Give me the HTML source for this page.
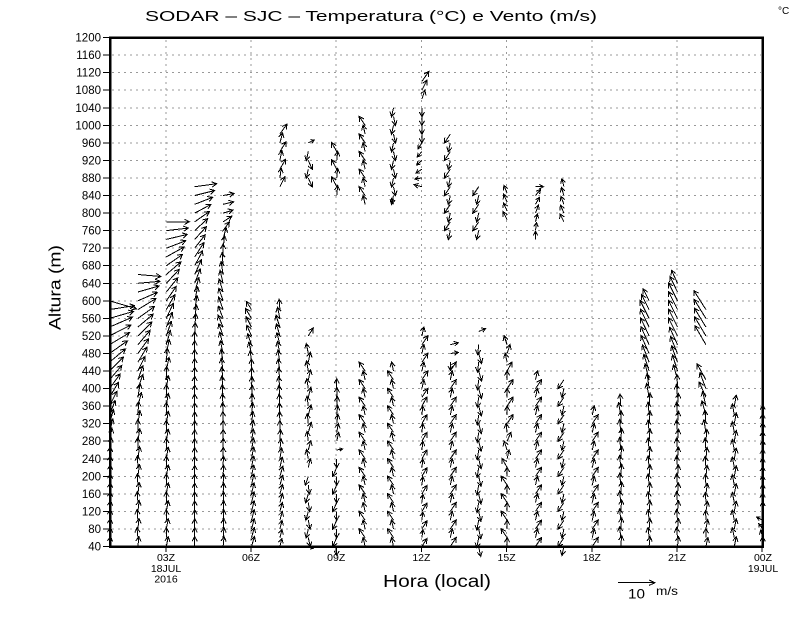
<!DOCTYPE html>
<html>
<head>
<meta charset="utf-8">
<style>
html,body{margin:0;padding:0;background:#fff;}
svg{display:block;font-family:"Liberation Sans",sans-serif;}
</style>
</head>
<body>
<svg id="s" width="800" height="618" viewBox="0 0 800 618" xmlns="http://www.w3.org/2000/svg">
<rect width="800" height="618" fill="#fff"/>
<g stroke="#999" stroke-width="1" stroke-dasharray="2 4" shape-rendering="crispEdges" fill="none">
<path d="M112 528.95H761M112 511.4H761M112 493.85H761M112 476.3H761M112 458.75H761M112 441.2H761M112 423.65H761M112 406.1H761M112 388.55H761M112 371H761M112 353.45H761M112 335.9H761M112 318.35H761M112 300.8H761M112 283.25H761M112 265.7H761M112 248.15H761M112 230.6H761M112 213.05H761M112 195.5H761M112 177.95H761M112 160.4H761M112 142.85H761M112 125.3H761M112 107.75H761M112 90.2H761M112 72.65H761M112 55.1H761"/>
<path d="M165.8 40V545M251 40V545M336.2 40V545M421.4 40V545M506.6 40V545M591.8 40V545M677 40V545"/>
</g>
<path id="arr" d="" stroke="#000" stroke-width="1" fill="none" shape-rendering="crispEdges"/>
<rect x="110" y="37.7" width="652.5" height="509" fill="none" stroke="#000" stroke-width="2.5" shape-rendering="crispEdges"/>
<g stroke="#000" stroke-width="1" shape-rendering="crispEdges">
<path d="M103 546.5H109M103 528.95H109M103 511.4H109M103 493.85H109M103 476.3H109M103 458.75H109M103 441.2H109M103 423.65H109M103 406.1H109M103 388.55H109M103 371H109M103 353.45H109M103 335.9H109M103 318.35H109M103 300.8H109M103 283.25H109M103 265.7H109M103 248.15H109M103 230.6H109M103 213.05H109M103 195.5H109M103 177.95H109M103 160.4H109M103 142.85H109M103 125.3H109M103 107.75H109M103 90.2H109M103 72.65H109M103 55.1H109M103 37.55H109"/>
<path d="M165.8 547V552M251 547V552M336.2 547V552M421.4 547V552M506.6 547V552M591.8 547V552M677 547V552M762.2 547V552"/>
</g>
<g font-size="11.5" text-anchor="end" fill="#000">
<text x="101" y="550.5">40</text>
<text x="101" y="533">80</text>
<text x="101" y="515.4">120</text>
<text x="101" y="497.9">160</text>
<text x="101" y="480.3">200</text>
<text x="101" y="462.8">240</text>
<text x="101" y="445.2">280</text>
<text x="101" y="427.7">320</text>
<text x="101" y="410.1">360</text>
<text x="101" y="392.6">400</text>
<text x="101" y="375">440</text>
<text x="101" y="357.5">480</text>
<text x="101" y="339.9">520</text>
<text x="101" y="322.4">560</text>
<text x="101" y="304.8">600</text>
<text x="101" y="287.3">640</text>
<text x="101" y="269.7">680</text>
<text x="101" y="252.2">720</text>
<text x="101" y="234.6">760</text>
<text x="101" y="217.1">800</text>
<text x="101" y="199.5">840</text>
<text x="101" y="182">880</text>
<text x="101" y="164.4">920</text>
<text x="101" y="146.9">960</text>
<text x="101" y="129.3">1000</text>
<text x="101" y="111.8">1040</text>
<text x="101" y="94.2">1080</text>
<text x="101" y="76.7">1120</text>
<text x="101" y="59.1">1160</text>
<text x="101" y="41.6">1200</text>
</g>
<g font-size="10.5" text-anchor="middle" fill="#000">
<text x="166" y="561">03Z</text>
<text x="166" y="572">18JUL</text>
<text x="166" y="582.5">2016</text>
<text x="251" y="561">06Z</text>
<text x="336.2" y="561">09Z</text>
<text x="421.4" y="561">12Z</text>
<text x="506.6" y="561">15Z</text>
<text x="591.8" y="561">18Z</text>
<text x="677" y="561">21Z</text>
<text x="763" y="561">00Z</text>
<text x="763" y="572">19JUL</text>
</g>
<text x="145" y="21" font-size="14.5" textLength="452" lengthAdjust="spacingAndGlyphs" fill="#000">SODAR – SJC – Temperatura (°C) e Vento (m/s)</text>
<text x="778" y="14" font-size="10" fill="#000">°C</text>
<text transform="translate(60.5,330) rotate(-90)" font-size="16.5" textLength="85" lengthAdjust="spacingAndGlyphs" fill="#000">Altura (m)</text>
<text x="383" y="587" font-size="17.5" textLength="108" lengthAdjust="spacingAndGlyphs" fill="#000">Hora (local)</text>
<path d="M618 582.7H655M649 580L655 582.7L649 585.4" stroke="#000" stroke-width="1" fill="none" shape-rendering="crispEdges"/>
<text x="628" y="598.3" font-size="13.5" textLength="17" lengthAdjust="spacingAndGlyphs" fill="#000">10</text>
<text x="656" y="595" font-size="12" textLength="22" lengthAdjust="spacingAndGlyphs" fill="#000">m/s</text>
</svg>
<script>
(function(){
var X0=109.5, DX=28.4;
function ys(h){return 546.5-(h-40)*0.43875;}
var C=[
[0,[[40,600,[[40,1,10],[240,1,12],[320,4,14],[380,9,15],[440,14,14],[500,20,12],[540,23,10],[580,25,4],[600,27,-8]]]]],
[1,[[40,400,[[40,0,10],[320,1,13],[400,4,14]],1,0],[420,660,[[420,5,14],[460,9,15],[520,14,14],[580,18,11],[620,21,6],[660,23,-2]]]]],
[2,[[40,460,[[40,1,10],[400,1,13],[460,2,14]],1,0],[480,780,[[480,3,14],[560,7,15],[640,13,14],[700,18,10],[740,21,5],[780,23,0]]]]],
[3,[[40,860,[[40,0,10],[500,0,13],[600,3,14],[680,8,15],[760,13,12],[820,18,7],[860,22,3]]]]],
[4,[[40,840,[[40,1,10],[300,0,12],[460,-2,13],[540,-5,12],[620,-4,13],[700,0,13],[740,3,12],[770,8,7],[800,10,3],[840,11,2]]]]],
[5,[[40,580,[[40,3,10],[280,2,12],[440,0,12],[500,-4,11],[560,-6,10],[580,-5,8]]]]],
[6,[[40,590,[[40,2,8],[200,3,10],[300,0,12],[460,-2,12],[540,-4,12],[590,0,10]]],[860,980,[[860,3,10],[980,5,10]],2,0]]],
[7,[[40,40,[[40,5,-2]]],[60,200,[[60,0,-9],[200,-1,-9]],2,0],[220,480,[[220,0,9],[300,1,10],[480,0,10]],2,0],[520,520,[[520,5,8]]],[880,940,[[880,1,-9],[940,1,-9]],3,0],[960,960,[[960,6,3]]]]],
[8,[[40,240,[[40,-2,-9],[240,-2,-9]],2,0],[260,260,[[260,6,1]]],[280,400,[[280,2,9],[400,0,10]]],[840,940,[[840,-2,10],[940,-2,9]],3,0]]],
[9,[[40,120,[[40,-4,9],[120,-4,9]],2,0],[140,450,[[140,-4,9],[450,-4,9]],2,0],[820,1000,[[820,-4,9],[1000,-4,9]],2,0]]],
[10,[[40,440,[[40,-4,9],[440,-4,9]],2,0],[820,1040,[[820,-4,6],[840,0,-9],[1040,0,-9]],2,0]]],
[11,[[40,370,[[40,3,8],[370,3,9]],2,0],[380,520,[[380,4,9],[520,4,9]],2,0],[860,1100,[[860,-8,2],[900,-6,-4],[960,-4,-6],[980,0,-9],[1040,0,-9],[1060,3,9],[1080,5,10],[1100,7,10]]]]],
[12,[[40,440,[[40,4,9],[440,4,9]],2,0],[460,460,[[460,0,-8]]],[480,480,[[480,8,1]]],[500,500,[[500,8,2]]],[760,990,[[760,-4,-9],[990,-4,-9]],2,0]]],
[13,[[40,510,[[40,0,-10],[510,1,-10]],2,0],[530,530,[[530,7,3]]],[760,870,[[760,-4,-9],[870,-4,-9]],2,0]]],
[14,[[40,510,[[40,-3,9],[200,-3,9],[320,3,9],[420,3,9],[480,0,9],[510,0,9]],3,0],[785,860,[[785,-4,8],[860,-3,8]]]]],
[15,[[40,420,[[40,4,9],[420,4,9]],2,0],[740,860,[[740,0,8],[800,3,8],[840,5,6],[860,8,0]]]]],
[16,[[40,420,[[40,-4,-9],[420,-4,-9]],2,0],[780,860,[[780,-4,8],[860,-2,8]]]]],
[17,[[40,340,[[40,4,9],[340,4,9]],2,0]]],
[18,[[40,370,[[40,0,11],[300,0,13],[370,-2,12]],1,0]]],
[19,[[40,400,[[40,0,10],[360,0,13],[400,-3,15]],1,0],[420,600,[[420,-4,16],[480,-8,18],[560,-9,18],[600,-6,12]]]]],
[20,[[40,420,[[40,0,10],[380,0,13],[420,-3,15]],1,0],[440,640,[[440,-5,16],[520,-9,18],[600,-9,18],[640,-6,13]]]]],
[21,[[40,420,[[40,1,9],[280,0,12],[340,-3,14],[400,-7,16],[420,-8,16]],1,0],[500,580,[[500,-11,19],[580,-12,19]]]]],
[22,[[40,360,[[40,0,10],[360,0,11]],2,0]]],
[23,[[40,340,[[40,0,10],[100,-6,3],[120,0,10],[340,0,10]]]]]
];
function interp(k,h){
 if(h<=k[0][0]) return [k[0][1],k[0][2]];
 for(var i=1;i<k.length;i++){
  if(h<=k[i][0]){var a=k[i-1],b=k[i],t=(h-a[0])/(b[0]-a[0]);return [a[1]+(b[1]-a[1])*t,a[2]+(b[2]-a[2])*t];}
 }
 var l=k[k.length-1];return [l[1],l[2]];
}
var d='';
function f(v){return v.toFixed(1);}
function arrow(x,y,dx,dy){
 var ex=x+dx, ey=y-dy, L=Math.sqrt(dx*dx+dy*dy);
 if(L<0.5) return;
 var ux=(x-ex)/L, uy=(y-ey)/L, hl=Math.min(5.5,L*0.6), a=0.5, c=Math.cos(a), s=Math.sin(a);
 var h1x=ex+hl*(ux*c-uy*s), h1y=ey+hl*(ux*s+uy*c);
 var h2x=ex+hl*(ux*c+uy*s), h2y=ey+hl*(-ux*s+uy*c);
 d+='M'+f(x)+' '+f(y)+'L'+f(ex)+' '+f(ey)+'M'+f(h1x)+' '+f(h1y)+'L'+f(ex)+' '+f(ey)+'L'+f(h2x)+' '+f(h2y);
}
C.forEach(function(col){
 var x=X0+col[0]*DX;
 col[1].forEach(function(sg){
  var h0=sg[0],h1=sg[1],kp=sg[2],zx=sg[3]||0,zy=sg[4]||0,i=0;
  for(var h=h0;h<=h1;h+=20,i++){
   var v=interp(kp,h), sgn=(i%2)?-1:1;
   arrow(x,ys(h),v[0]+sgn*zx,v[1]+sgn*zy);
  }
 });
});
document.getElementById('arr').setAttribute('d',d);
})();
</script>
</body>
</html>
